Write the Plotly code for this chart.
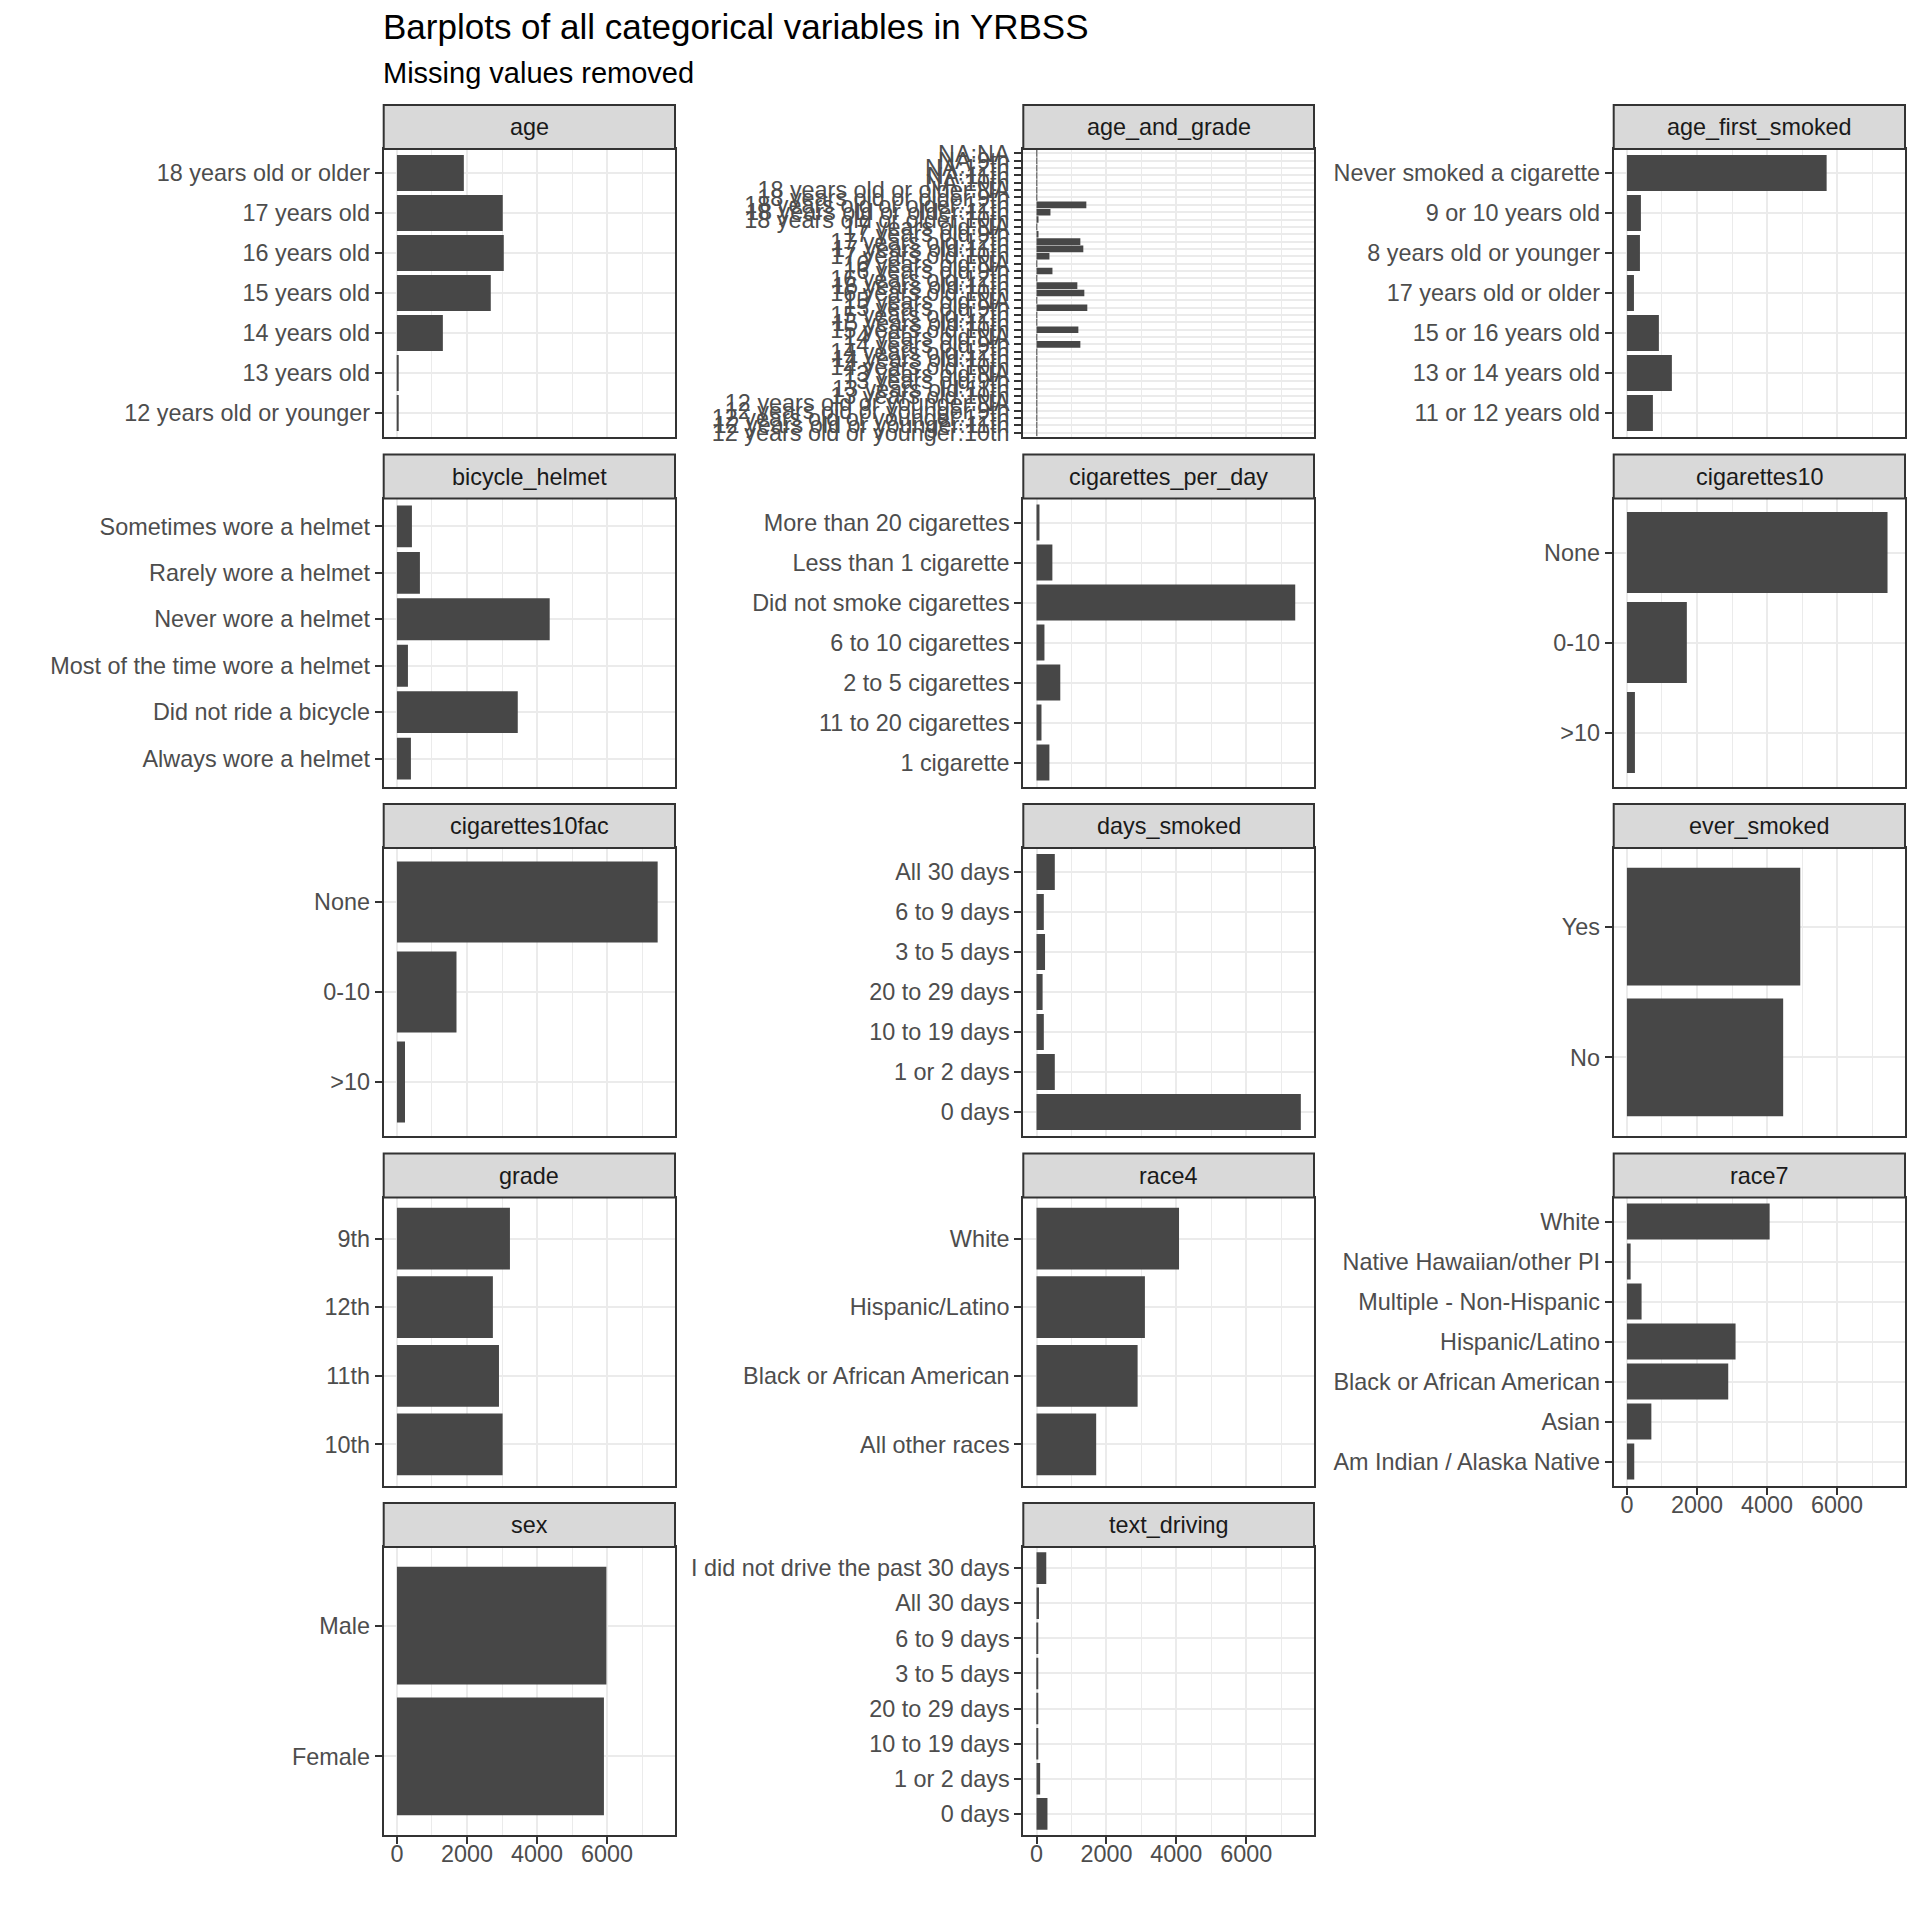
import plotly.graph_objects as go

# ---------------- data (categories listed bottom -> top) ----------------
age_cats = ["12 years old or younger", "13 years old", "14 years old", "15 years old",
            "16 years old", "17 years old", "18 years old or older"]
age_vals = [25, 30, 1311, 2679, 3050, 3021, 1910]

ag_cats = [
    "12 years old or younger:10th", "12 years old or younger:11th", "12 years old or younger:12th",
    "12 years old or younger:9th", "12 years old or younger:NA",
    "13 years old:10th", "13 years old:11th", "13 years old:9th", "13 years old:NA",
    "14 years old:10th", "14 years old:11th", "14 years old:12th", "14 years old:9th", "14 years old:NA",
    "15 years old:10th", "15 years old:11th", "15 years old:12th", "15 years old:9th", "15 years old:NA",
    "16 years old:10th", "16 years old:11th", "16 years old:12th", "16 years old:9th", "16 years old:NA",
    "17 years old:10th", "17 years old:11th", "17 years old:12th", "17 years old:9th", "17 years old:NA",
    "18 years old or older:10th", "18 years old or older:11th", "18 years old or older:12th",
    "18 years old or older:9th", "18 years old or older:NA",
    "NA:10th", "NA:11th", "NA:12th", "NA:9th", "NA:NA"]
ag_vals = [3, 2, 3, 3, 8,
           3, 3, 20, 3,
           20, 3, 2, 1254, 5,
           1197, 15, 3, 1453, 15,
           1368, 1168, 15, 456, 15,
           370, 1339, 1254, 57, 15,
           57, 399, 1425, 15, 15,
           3, 3, 10, 3, 20]

afs_cats = ["11 or 12 years old", "13 or 14 years old", "15 or 16 years old", "17 years old or older",
            "8 years old or younger", "9 or 10 years old", "Never smoked a cigarette"]
afs_vals = [741, 1283, 912, 200, 371, 399, 5701]

bh_cats = ["Always wore a helmet", "Did not ride a bicycle", "Most of the time wore a helmet",
           "Never wore a helmet", "Rarely wore a helmet", "Sometimes wore a helmet"]
bh_vals = [399, 3449, 314, 4361, 656, 428]

cpd_cats = ["1 cigarette", "11 to 20 cigarettes", "2 to 5 cigarettes", "6 to 10 cigarettes",
            "Did not smoke cigarettes", "Less than 1 cigarette", "More than 20 cigarettes"]
cpd_vals = [369, 142, 680, 227, 7401, 454, 85]

c10_cats = [">10", "0-10", "None"]
c10_vals = [228, 1710, 7439]

c10f_cats = [">10", "0-10", "None"]
c10f_vals = [230, 1700, 7443]

ds_cats = ["0 days", "1 or 2 days", "10 to 19 days", "20 to 29 days", "3 to 5 days",
           "6 to 9 days", "All 30 days"]
ds_vals = [7561, 523, 209, 174, 244, 209, 523]

es_cats = ["No", "Yes"]
es_vals = [4460, 4948]

grade_cats = ["10th", "11th", "12th", "9th"]
grade_vals = [3017, 2913, 2739, 3226]

r4_cats = ["All other races", "Black or African American", "Hispanic/Latino", "White"]
r4_vals = [1707, 2892, 3101, 4077]

r7_cats = ["Am Indian / Alaska Native", "Asian", "Black or African American", "Hispanic/Latino",
           "Multiple - Non-Hispanic", "Native Hawaiian/other PI", "White"]
r7_vals = [209, 697, 2892, 3101, 418, 105, 4074]

sex_cats = ["Female", "Male"]
sex_vals = [5909, 5979]

td_cats = ["0 days", "1 or 2 days", "10 to 19 days", "20 to 29 days", "3 to 5 days",
           "6 to 9 days", "All 30 days", "I did not drive the past 30 days"]
td_vals = [313, 104, 35, 35, 35, 35, 70, 279]

panel_names = ["age", "age_and_grade", "age_first_smoked", "bicycle_helmet", "cigarettes_per_day",
               "cigarettes10", "cigarettes10fac", "days_smoked", "ever_smoked", "grade", "race4",
               "race7", "sex", "text_driving"]
panel_cats = [age_cats, ag_cats, afs_cats, bh_cats, cpd_cats, c10_cats, c10f_cats, ds_cats,
              es_cats, grade_cats, r4_cats, r7_cats, sex_cats, td_cats]
panel_vals = [age_vals, ag_vals, afs_vals, bh_vals, cpd_vals, c10_vals, c10f_vals, ds_vals,
              es_vals, grade_vals, r4_vals, r7_vals, sex_vals, td_vals]

x_ticks = [0, 2000, 4000, 6000]
x_minor = [1000, 3000, 5000, 7000]

# ---------------- styling / layout ----------------
W = H = 1920
FONT = "Liberation Sans, Arial, Helvetica, sans-serif"
BAR = "#474747"
GRID = "#EBEBEB"
BORDER = "#333333"
STRIP_FILL = "#D9D9D9"
AX_TEXT = "#4D4D4D"
XR = [-378, 7938]

col_x = [(383.7, 675.0), (1023.3, 1314.0), (1613.7, 1905.0)]
row_top0 = 149.0
row_pitch = 349.5
panel_h = 288.0
strip_h = 44.0

bottom_panels = {"sex", "text_driving", "race7"}

fig = go.Figure()
shapes = []
annotations = []
layout_axes = {}

for i, (name, cats, vals) in enumerate(zip(panel_names, panel_cats, panel_vals)):
    r, c = divmod(i, 3)
    n = i + 1
    xs = "" if n == 1 else str(n)
    x0, x1 = col_x[c]
    top = row_top0 + r * row_pitch
    bot = top + panel_h
    fig.add_trace(go.Bar(
        x=vals, y=cats, orientation="h", width=0.9,
        marker=dict(color=BAR, line=dict(width=0)),
        xaxis="x" + xs, yaxis="y" + xs, showlegend=False, hoverinfo="x+y"))
    show_x = name in bottom_panels
    layout_axes["xaxis" + xs] = dict(
        domain=[x0 / W, x1 / W], anchor="y" + xs, range=XR, automargin=False,
        tickmode="array", tickvals=x_ticks, ticktext=[str(t) for t in x_ticks],
        showticklabels=show_x, ticks="outside" if show_x else "",
        ticklen=7, tickwidth=2, tickcolor=BORDER, ticklabelstandoff=-10,
        tickfont=dict(family=FONT, size=23.4, color=AX_TEXT),
        showgrid=True, gridcolor=GRID, gridwidth=2.2,
        minor=dict(tickmode="array", tickvals=x_minor, showgrid=True, gridcolor=GRID, gridwidth=1.1),
        zeroline=False, showline=True, mirror=True, linecolor=BORDER, linewidth=2,
        fixedrange=True)
    layout_axes["yaxis" + xs] = dict(
        domain=[1 - bot / H, 1 - top / H], anchor="x" + xs, automargin=False,
        type="category", categoryorder="array", categoryarray=cats,
        tickmode="array", tickvals=cats, ticktext=cats,
        range=[-0.6, len(cats) - 0.4],
        ticks="outside", ticklen=7, tickwidth=2, tickcolor=BORDER, ticklabelstandoff=0,
        tickfont=dict(family=FONT, size=23.4, color=AX_TEXT),
        showgrid=True, gridcolor=GRID, gridwidth=2.2,
        zeroline=False, showline=True, mirror=True, linecolor=BORDER, linewidth=2,
        fixedrange=True)
    # strip
    shapes.append(dict(type="rect", xref="paper", yref="paper",
                       x0=x0 / W, x1=x1 / W, y0=1 - top / H, y1=1 - (top - strip_h) / H,
                       fillcolor=STRIP_FILL, line=dict(color=BORDER, width=2), layer="above"))
    annotations.append(dict(xref="paper", yref="paper", x=(x0 + x1) / 2 / W,
                            y=1 - (top - strip_h / 2) / H, text=name, showarrow=False,
                            xanchor="center", yanchor="middle",
                            font=dict(family=FONT, size=23.4, color="#1A1A1A")))

annotations.append(dict(xref="paper", yref="paper", x=381.0 / W, y=1 - 27.0 / H,
                        text="Barplots of all categorical variables in YRBSS", showarrow=False,
                        xanchor="left", yanchor="middle",
                        font=dict(family=FONT, size=35, color="#000000")))
annotations.append(dict(xref="paper", yref="paper", x=381.0 / W, y=1 - 73.0 / H,
                        text="Missing values removed", showarrow=False,
                        xanchor="left", yanchor="middle",
                        font=dict(family=FONT, size=29, color="#000000")))

fig.update_layout(
    width=W, height=H, margin=dict(l=0, r=0, t=0, b=0, autoexpand=False),
    paper_bgcolor="white", plot_bgcolor="white",
    shapes=shapes, annotations=annotations, showlegend=False,
    font=dict(family=FONT),
    **layout_axes)

fig.write_html(
    "out.html",
    config={"displayModeBar": False, "staticPlot": False},
    post_script="document.body.style.margin='0';document.body.style.padding='0';"
                "document.body.style.overflow='hidden';"
                "document.documentElement.style.overflow='hidden';")
